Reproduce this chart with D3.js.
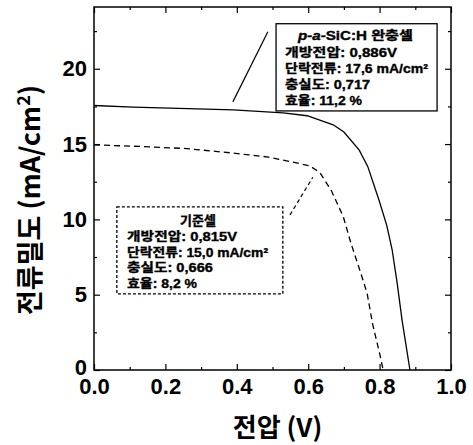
<!DOCTYPE html>
<html>
<head>
<meta charset="utf-8">
<script src="https://cdn.jsdelivr.net/npm/d3@7"></script>
<style>
  body { margin: 0; background: #fff; }
  svg text { fill: #000; }
</style>
</head>
<body>
<svg id="chart" width="473" height="445"></svg>
<script>
// donnees (courbes J-V)
const voltBuffer = [0, 0.11, 0.39, 0.53, 0.597, 0.67, 0.70, 0.743, 0.767, 0.798, 0.82, 0.835, 0.849, 0.863, 0.885];
const currBuffer = [17.56, 17.45, 17.27, 17.07, 16.88, 16.28, 15.8, 14.6, 13.5, 11.3, 9.6, 8.0, 5.8, 3.3, 0];

const voltRef = [0, 0.129, 0.26, 0.39, 0.484, 0.557, 0.605, 0.633, 0.665, 0.698, 0.72, 0.745, 0.765, 0.78, 0.80, 0.81];
const currRef = [14.95, 14.84, 14.7, 14.4, 14.15, 13.8, 13.55, 13.1, 11.9, 10.2, 8.4, 6.6, 5.1, 3.1, 1.1, 0];

const xTicks = [0, 0.2, 0.4, 0.6, 0.8, 1.0];
const xMinor = [0.1, 0.3, 0.5, 0.7, 0.9];
const yTicks = [0, 5, 10, 15, 20];
const yMinor = [2.5, 7.5, 12.5, 17.5, 22.5];

const bufferTitle = "완충셀";
const bufferLines = ["개방전압: 0,886V", "단락전류: 17,6 mA/cm²", "충실도: 0,717", "효율: 11,2 %"];
const refTitle = "기준셀";
const refLines = ["개방전압: 0,815V", "단락전류: 15,0 mA/cm²", "충실도: 0,666", "효율: 8,2 %"];

const svg = d3.select("#chart");
const mLeft = 94, mRight = 451, mTop = 7, mBottom = 370;

const x = d3.scaleLinear().domain([0, 1]).range([mLeft, mRight]);
const y = d3.scaleLinear().domain([0, 24.1]).range([mBottom, mTop]);

const korFont = "'Noto Sans CJK KR', 'Noto Sans', sans-serif";
const numFont = "'Liberation Sans', Arial, sans-serif";
// pour les boites : latin d'abord (metriques plus serrees), coreen en repli
const boxFont = "'Liberation Sans', 'Noto Sans CJK KR', sans-serif";

// cadre
svg.append("rect")
  .attr("x", mLeft).attr("y", mTop)
  .attr("width", mRight - mLeft).attr("height", mBottom - mTop)
  .attr("fill", "none").attr("stroke", "#000").attr("stroke-width", 1.5);

// axes avec ticks vers l'interieur
svg.append("g").attr("transform", `translate(0,${mBottom})`)
  .call(d3.axisBottom(x).tickValues(xTicks).tickSize(-6).tickPadding(8).tickFormat(d3.format(".1f")));
svg.append("g").attr("transform", `translate(0,${mBottom})`)
  .call(d3.axisBottom(x).tickValues(xMinor).tickSize(-3).tickFormat(""));
svg.append("g").attr("transform", `translate(0,${mTop})`)
  .call(d3.axisTop(x).tickValues(xTicks).tickSize(-6).tickFormat(""));
svg.append("g").attr("transform", `translate(0,${mTop})`)
  .call(d3.axisTop(x).tickValues(xMinor).tickSize(-3).tickFormat(""));

const yAx = svg.append("g").attr("transform", `translate(${mLeft},0)`)
  .call(d3.axisLeft(y).tickValues(yTicks).tickSize(-6).tickPadding(7).tickFormat(d3.format("d")));
svg.append("g").attr("transform", `translate(${mLeft},0)`)
  .call(d3.axisLeft(y).tickValues(yMinor).tickSize(-3).tickFormat(""));
svg.append("g").attr("transform", `translate(${mRight},0)`)
  .call(d3.axisRight(y).tickValues(yTicks).tickSize(-6).tickFormat(""));
svg.append("g").attr("transform", `translate(${mRight},0)`)
  .call(d3.axisRight(y).tickValues(yMinor).tickSize(-3).tickFormat(""));

svg.selectAll(".domain").remove();
svg.selectAll(".tick line").attr("stroke", "#000").attr("stroke-width", 1.2);
svg.selectAll(".tick text")
  .attr("font-family", numFont).attr("font-weight", "bold").attr("font-size", 22);
// le "0" de l'axe y est un peu remonte comme sur la figure
yAx.selectAll(".tick text").filter(d => d === 0).attr("dy", "0.2em");

// titres des axes
svg.append("text")
  .attr("x", (mLeft + mRight) / 2 + 5).attr("y", 437)
  .attr("text-anchor", "middle")
  .attr("font-family", korFont).attr("font-weight", "bold").attr("font-size", 26)
  .text("전압 (V)");

const yTitle = svg.append("text")
  .attr("transform", "translate(40,200) rotate(-90)")
  .attr("text-anchor", "middle")
  .attr("font-family", korFont).attr("font-weight", "bold").attr("font-size", 27);
yTitle.append("tspan").text("전류밀도 (mA/cm");
yTitle.append("tspan").attr("dy", -10).attr("font-size", 18).text("2");
yTitle.append("tspan").attr("dy", 10).text(")");

// courbes
const line = d3.line().x(d => x(d[0])).y(d => y(d[1]));

svg.append("path")
  .datum(d3.zip(voltBuffer, currBuffer))
  .attr("d", line)
  .attr("fill", "none").attr("stroke", "#000").attr("stroke-width", 1.3);

svg.append("path")
  .datum(d3.zip(voltRef, currRef))
  .attr("d", line)
  .attr("fill", "none").attr("stroke", "#000").attr("stroke-width", 1.3)
  .attr("stroke-dasharray", "6,4");

// lignes de renvoi
svg.append("line")
  .attr("x1", x(0.389)).attr("y1", y(17.8))
  .attr("x2", x(0.487)).attr("y2", y(22.46))
  .attr("stroke", "#000").attr("stroke-width", 1.2);
svg.append("line")
  .attr("x1", x(0.549)).attr("y1", y(10.3))
  .attr("x2", x(0.613)).attr("y2", y(12.8))
  .attr("stroke", "#000").attr("stroke-width", 1.2)
  .attr("stroke-dasharray", "4,3");

// boites de legende
function makeBox(x0, x1, j0, j1, dashed){
  const r = svg.append("rect")
    .attr("x", x(x0)).attr("y", y(j0))
    .attr("width", x(x1) - x(x0)).attr("height", y(j1) - y(j0))
    .attr("fill", "#fff").attr("stroke", "#000").attr("stroke-width", 1.3);
  if(dashed) r.attr("stroke-dasharray", "3,2");
}

function boxText(xs, ys, txt, len){
  svg.append("text")
    .attr("x", xs).attr("y", ys)
    .attr("font-family", boxFont).attr("font-weight", "bold").attr("font-size", 12.5)
    .attr("stroke", "#000").attr("stroke-width", 0.35)
    .attr("textLength", len).attr("lengthAdjust", "spacingAndGlyphs")
    .text(txt);
}

makeBox(0.51, 0.961, 22.99, 17.2, false);
const t1 = svg.append("text")
  .attr("x", 298).attr("y", 40)
  .attr("font-family", boxFont).attr("font-weight", "bold").attr("font-size", 12.5)
  .attr("stroke", "#000").attr("stroke-width", 0.35)
  .attr("textLength", 115).attr("lengthAdjust", "spacingAndGlyphs");
t1.append("tspan").attr("font-style", "italic").text("p-a-");
t1.append("tspan").text("SiC:H ");
t1.append("tspan").text(bufferTitle);

const bufferLens = [112, 143, 85, 77];
bufferLines.forEach((t, i) => boxText(285, 57 + i * 16, t, bufferLens[i]));

makeBox(0.064, 0.529, 10.83, 5.05, true);
svg.append("text")
  .attr("x", 198).attr("y", 225).attr("text-anchor", "middle")
  .attr("font-family", boxFont).attr("font-weight", "bold").attr("font-size", 13)
  .attr("stroke", "#000").attr("stroke-width", 0.35)
  .text(refTitle);
const refLens = [110, 141, 86, 70];
refLines.forEach((t, i) => boxText(127, 241 + i * 15.7, t, refLens[i]));
</script>
</body>
</html>
